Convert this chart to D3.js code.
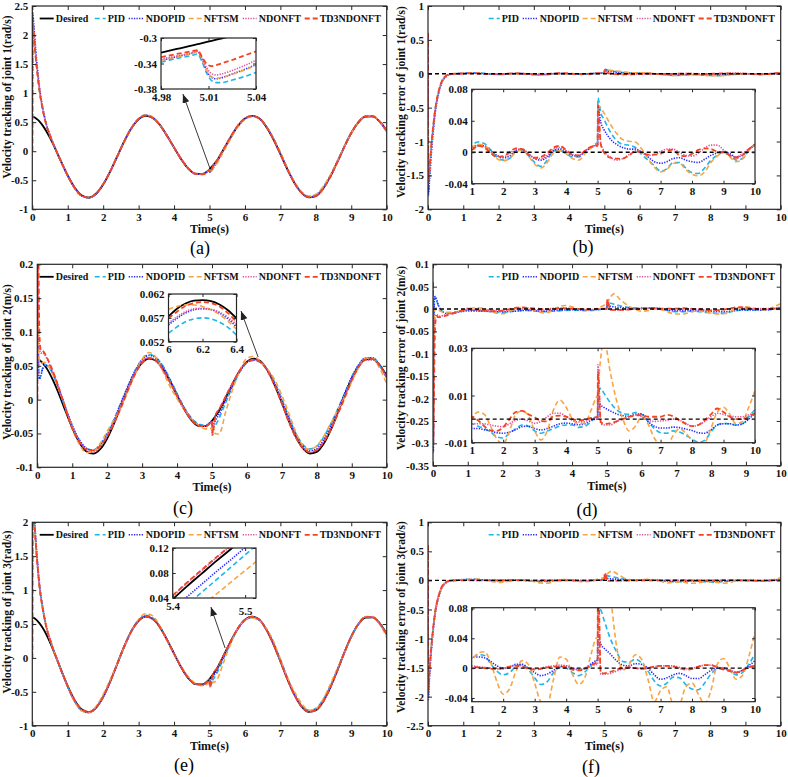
<!DOCTYPE html>
<html>
<head>
<meta charset="utf-8">
<script src="https://cdn.jsdelivr.net/npm/d3@7"></script>
<style>
  body { margin: 0; background: #fff; }
</style>
</head>
<body>
<script>
// ---- data ----
// shared time grid: start-up / 1..4.8 / disturbance at 5 s / 5.2..10
const time = [
  0, 0.01, 0.02, 0.04, 0.06, 0.1, 0.15, 0.2, 0.3, 0.4, 0.5, 0.6, 0.8,
  1, 1.2, 1.4, 1.6, 1.8, 2, 2.2, 2.4, 2.6, 2.8, 3, 3.2, 3.4, 3.6, 3.8, 4, 4.2, 4.4, 4.6, 4.8,
  4.95, 5, 5.01, 5.1,
  5.2, 5.4, 5.6, 5.8, 6, 6.2, 6.4, 6.6, 6.8, 7, 7.2, 7.4, 7.6, 7.8, 8, 8.2, 8.4, 8.6, 8.8, 9, 9.2, 9.4, 9.6, 9.8, 10
];

// desired velocities
const desired1 = [
  0.6, 0.5979, 0.5955, 0.5901, 0.5837, 0.5681, 0.5433, 0.5129, 0.4361, 0.3401, 0.2283, 0.1045, -0.161,
  -0.418, -0.6288, -0.7624, -0.7989, -0.7329, -0.5741, -0.3461, -0.0826, 0.178, 0.3983, 0.5479, 0.6076, 0.5727, 0.4535, 0.2706, 0.0641, -0.1373, -0.2979, -0.3862, -0.3916,
  -0.3394, -0.3116, -0.3056, -0.2434,
  -0.1682, 0.0355, 0.2453, 0.4348, 0.5622, 0.6068, 0.5658, 0.4215, 0.2084, -0.0494, -0.3148, -0.5494, -0.7179, -0.7963, -0.7725, -0.6491, -0.4473, -0.1939, 0.0722, 0.3138, 0.4964, 0.5943, 0.5983, 0.5119, 0.3537
];
const desired2 = [
  0.06, 0.0598, 0.0596, 0.059, 0.0584, 0.0568, 0.0543, 0.0513, 0.0436, 0.034, 0.0228, 0.0105, -0.0161,
  -0.0418, -0.0629, -0.0762, -0.0799, -0.0733, -0.0574, -0.0346, -0.0083, 0.0178, 0.0398, 0.0548, 0.0608, 0.0573, 0.0454, 0.0271, 0.0064, -0.0137, -0.0298, -0.0386, -0.0392,
  -0.0339, -0.0312, -0.0306, -0.0243,
  -0.0168, 0.0036, 0.0245, 0.0435, 0.0562, 0.0607, 0.0566, 0.0422, 0.0208, -0.0049, -0.0315, -0.0549, -0.0718, -0.0796, -0.0773, -0.0649, -0.0447, -0.0194, 0.0072, 0.0314, 0.0496, 0.0594, 0.0598, 0.0512, 0.0354
];
const desired3 = [
  0.6, 0.5979, 0.5955, 0.5901, 0.5837, 0.5681, 0.5433, 0.5129, 0.4361, 0.3401, 0.2283, 0.1045, -0.161,
  -0.418, -0.6288, -0.7624, -0.7989, -0.7329, -0.5741, -0.3461, -0.0826, 0.178, 0.3983, 0.5479, 0.6076, 0.5727, 0.4535, 0.2706, 0.0641, -0.1373, -0.2979, -0.3862, -0.3916,
  -0.3394, -0.3116, -0.3056, -0.2434,
  -0.1682, 0.0355, 0.2453, 0.4348, 0.5622, 0.6068, 0.5658, 0.4215, 0.2084, -0.0494, -0.3148, -0.5494, -0.7179, -0.7963, -0.7725, -0.6491, -0.4473, -0.1939, 0.0722, 0.3138, 0.4964, 0.5943, 0.5983, 0.5119, 0.3537
];

// tracking errors (desired - actual), joint 1
const errPid1 = [
  0.6, -1.8, -1.7, -1.5, -1.32, -1.05, -0.78, -0.55, -0.27, -0.11, -0.04, -0.01, 0.003,
  0.009, 0.013, 0.011, 0.003, -0.006, -0.01, -0.008, 0.001, 0.003, -0.004, -0.013, -0.018, -0.01, 0.002, 0.002, -0.002, -0.006, -0.006, 0.001, 0.006,
  0.011, 0.012, 0.069, 0.05,
  0.042, 0.026, 0.015, 0.01, 0.009, 0.006, -0.003, -0.01, -0.017, -0.024, -0.021, -0.013, -0.013, -0.02, -0.026, -0.027, -0.02, -0.01, -0.004, 0, -0.004, -0.01, -0.008, 0.002, 0.011
];
const errNdopid1 = [
  0.6, -1.78, -1.75, -1.6, -1.45, -1.15, -0.86, -0.6, -0.3, -0.12, -0.05, -0.015, 0.001,
  0.005, 0.009, 0.008, 0.002, -0.004, -0.007, -0.005, 0.002, 0.004, -0.002, -0.008, -0.01, -0.006, 0.002, 0.004, 0.001, -0.004, -0.005, 0.001, 0.006,
  0.009, 0.01, 0.058, 0.038,
  0.029, 0.017, 0.01, 0.006, 0.004, 0.004, 0, -0.006, -0.012, -0.014, -0.012, -0.008, -0.007, -0.01, -0.012, -0.013, -0.009, -0.004, -0.001, 0.001, -0.002, -0.006, -0.004, 0.003, 0.01
];
const errNftsm1 = [
  0.6, -1.6, -1.6, -1.45, -1.3, -1.03, -0.77, -0.55, -0.27, -0.11, -0.04, -0.01, 0.002,
  0.006, 0.01, 0.009, 0.001, -0.008, -0.011, -0.008, 0, 0.003, -0.005, -0.015, -0.02, -0.013, -0.001, 0.002, -0.002, -0.008, -0.01, -0.002, 0.006,
  0.01, 0.011, 0.06, 0.056,
  0.05, 0.036, 0.024, 0.016, 0.014, 0.013, 0.004, -0.008, -0.019, -0.025, -0.022, -0.014, -0.014, -0.022, -0.028, -0.03, -0.025, -0.013, -0.005, 0, -0.006, -0.012, -0.009, 0.002, 0.01
];
const errNdonft1 = [
  0.6, -1.5, -1.55, -1.45, -1.3, -1.03, -0.77, -0.55, -0.27, -0.11, -0.04, -0.01, 0.001,
  0.002, 0.008, 0.007, 0.001, -0.004, -0.006, -0.002, 0.004, 0.004, -0.002, -0.007, -0.008, -0.004, 0.004, 0.006, 0.002, -0.003, -0.004, 0.002, 0.007,
  0.009, 0.009, 0.046, 0.012,
  0.002, -0.006, -0.01, -0.008, -0.003, 0.002, 0, -0.004, -0.003, 0.001, 0.004, 0.004, 0, -0.004, -0.005, -0.001, 0.005, 0.009, 0.009, 0.003, -0.004, -0.006, -0.002, 0.004, 0.008
];
const errTd31 = [
  0.6, -1.6, -1.6, -1.45, -1.3, -1.02, -0.76, -0.54, -0.26, -0.1, -0.035, -0.008, 0.002,
  0.003, 0.008, 0.006, -0.001, -0.006, -0.005, 0, 0.005, 0.004, -0.003, -0.007, -0.006, -0.001, 0.006, 0.008, 0.003, -0.003, -0.004, 0.002, 0.007,
  0.008, 0.008, 0.06, 0.01,
  0, -0.007, -0.008, -0.008, -0.004, 0.001, 0, -0.003, -0.003, -0.002, 0.002, 0.003, -0.004, -0.005, -0.002, 0.003, 0.005, 0.004, 0.001, 0, -0.004, -0.007, -0.004, 0.004, 0.01
];

// joint 2
const errPid2 = [
  0.06, -0.3, -0.1, 0.015, 0.027, 0.02, 0.008, 0, -0.006, -0.008, -0.008, -0.007, -0.005,
  -0.002, -0.003, -0.004, -0.0055, -0.0075, -0.008, -0.006, -0.004, -0.0025, -0.003, -0.005, -0.006, -0.005, -0.004, -0.003, -0.0025, -0.0025, -0.0035, -0.003, -0.001,
  0.001, 0.001, 0.01, 0.013,
  0.011, 0.007, 0.004, 0.0025, 0.002, 0.0028, 0.002, -0.001, -0.004, -0.0058, -0.006, -0.005, -0.0055, -0.0068, -0.0085, -0.0098, -0.009, -0.0055, -0.0025, -0.0018, -0.002, -0.0025, -0.002, 0.001, 0.004
];
const errNdopid2 = [
  0.06, -0.32, -0.12, 0.02, 0.028, 0.022, 0.01, 0.001, -0.007, -0.01, -0.01, -0.009, -0.006,
  -0.004, -0.004, -0.0045, -0.005, -0.0058, -0.006, -0.0055, -0.0045, -0.0032, -0.003, -0.004, -0.0046, -0.004, -0.003, -0.002, -0.0017, -0.002, -0.0024, -0.002, -0.0005,
  0, 0, 0.009, 0.006,
  0.005, 0.0035, 0.0022, 0.0015, 0.0012, 0.002, 0.0022, -0.001, -0.003, -0.0038, -0.0038, -0.0034, -0.0036, -0.0042, -0.0048, -0.0058, -0.006, -0.0045, -0.0025, -0.002, -0.002, -0.0025, -0.002, 0, 0.0025
];
const errNftsm2 = [
  0.06, -0.25, -0.08, -0.01, 0, 0.003, 0, -0.004, -0.007, -0.008, -0.008, -0.007, -0.005,
  0, 0.003, 0.002, -0.003, -0.0085, -0.0105, -0.005, 0.002, 0.0035, 0.0015, -0.005, -0.0088, -0.005, 0.004, 0.008, 0.005, 0, -0.002, -0.0015, 0.004,
  0.009, 0.01, 0.012, 0.026,
  0.034, 0.02, 0.008, 0, -0.005, -0.003, 0.001, -0.002, -0.008, -0.011, -0.011, -0.007, -0.004, -0.006, -0.009, -0.011, -0.01, -0.004, 0.003, 0.005, 0.002, -0.002, -0.001, 0.005, 0.012
];
const errNdonft2 = [
  0.06, -0.28, -0.2, -0.06, -0.02, -0.012, -0.015, -0.016, -0.014, -0.012, -0.01, -0.008, -0.004,
  -0.002, -0.002, -0.002, -0.0025, -0.003, -0.0032, -0.002, -0.0005, 0, -0.0008, -0.0018, -0.001, 0.001, 0.0025, 0.0025, 0.001, -0.0005, -0.0012, -0.001, 0.0002,
  0.0005, 0.0005, 0.023, -0.002,
  -0.0025, -0.0025, -0.001, 0, 0.001, 0.0018, 0.001, -0.0005, -0.001, -0.0008, -0.0005, 0, -0.0005, -0.0018, -0.003, -0.0025, -0.001, 0.001, 0.0025, 0.002, 0.0012, 0.001, 0.001, 0.0018, 0.0025
];
const errTd32 = [
  0.06, -0.3, -0.25, -0.12, -0.04, -0.016, -0.018, -0.018, -0.016, -0.014, -0.012, -0.009, -0.004,
  0.001, -0.0005, -0.003, -0.0048, -0.005, -0.0035, 0, 0.003, 0.0035, 0.002, 0.0008, -0.0008, -0.001, 0.0012, 0.0015, 0.001, 0, -0.0005, -0.0002, 0.0005,
  0.0008, 0.0008, 0.02, -0.0012,
  -0.002, -0.0018, -0.001, 0, 0.001, 0.0015, 0.0018, 0.001, 0.001, 0.001, 0.0018, 0.0012, -0.0005, -0.002, -0.003, -0.0025, -0.0005, 0.002, 0.0045, 0.003, 0.001, 0, 0, 0.001, 0.0025
];

// joint 3
const errPid3 = [
  0.6, -2, -1.85, -1.6, -1.4, -1.12, -0.8, -0.56, -0.27, -0.11, -0.04, -0.01, 0.003,
  0.012, 0.018, 0.017, 0.006, -0.004, -0.009, -0.006, 0.002, 0.005, -0.002, -0.013, -0.022, -0.018, -0.006, 0.001, 0, -0.006, -0.01, -0.005, 0.004,
  0.01, 0.011, 0.08, 0.078,
  0.065, 0.04, 0.022, 0.009, 0.008, 0.012, 0.007, -0.004, -0.017, -0.024, -0.02, -0.012, -0.013, -0.022, -0.028, -0.029, -0.02, -0.008, -0.001, 0, -0.004, -0.009, -0.006, 0.005, 0.019
];
const errNdopid3 = [
  0.6, -2.05, -1.95, -1.7, -1.5, -1.18, -0.86, -0.6, -0.3, -0.12, -0.05, -0.015, 0.003,
  0.014, 0.015, 0.014, 0.009, 0.003, 0, 0.001, 0.005, 0.005, 0, -0.006, -0.01, -0.008, -0.003, 0.002, 0.003, 0, -0.002, 0, 0.006,
  0.01, 0.011, 0.045, 0.032,
  0.027, 0.019, 0.01, 0.004, 0.003, 0.006, 0.005, 0, -0.009, -0.015, -0.013, -0.009, -0.007, -0.01, -0.014, -0.014, -0.009, -0.003, 0, 0, -0.003, -0.006, -0.003, 0.003, 0.01
];
const errNftsm3 = [
  0.6, -1.85, -1.8, -1.6, -1.4, -1.1, -0.8, -0.56, -0.27, -0.11, -0.04, -0.01, 0.002,
  0.01, 0.02, 0.022, 0.008, -0.018, -0.035, -0.028, -0.005, 0.01, 0.005, -0.02, -0.045, -0.048, -0.015, 0.015, 0.012, -0.008, -0.022, -0.012, 0.02,
  0.04, 0.042, 0.07, 0.12,
  0.16, 0.1, 0.03, -0.003, 0.005, 0.018, 0.012, -0.015, -0.045, -0.03, -0.025, -0.048, -0.048, -0.025, -0.02, -0.035, -0.048, -0.03, 0.005, 0.013, 0, -0.015, -0.01, 0.015, 0.048
];
const errNdonft3 = [
  0.6, -1.8, -1.8, -1.58, -1.4, -1.1, -0.8, -0.56, -0.27, -0.11, -0.04, -0.01, 0.001,
  0.003, 0.002, 0.001, 0, -0.001, -0.001, 0.002, 0.004, 0.003, 0, -0.001, 0, 0.002, 0.003, 0.004, 0.003, 0, -0.002, -0.001, 0.003,
  0.005, 0.005, 0.12, -0.008,
  -0.008, -0.007, -0.004, -0.001, 0.001, 0, -0.001, 0, 0.002, 0.003, 0.003, 0.003, 0.001, -0.001, 0, 0.002, 0.004, 0.004, 0.002, -0.001, -0.003, -0.005, -0.003, 0.001, 0.003
];
const errTd33 = [
  0.6, -1.9, -1.85, -1.6, -1.42, -1.1, -0.8, -0.55, -0.27, -0.1, -0.035, -0.008, 0.001,
  0.002, 0.001, 0, -0.001, -0.001, 0, 0.002, 0.003, 0.002, -0.001, -0.002, -0.001, 0.001, 0.002, 0.002, 0.001, -0.002, -0.003, -0.001, 0.004,
  0.007, 0.008, 0.13, -0.006,
  -0.007, -0.005, -0.002, 0, 0.001, 0, -0.001, 0, 0.002, 0.003, 0.003, 0.002, 0, -0.002, -0.001, 0.002, 0.004, 0.004, 0.001, -0.002, -0.004, -0.006, -0.003, 0.001, 0.003
];

// zoomed tracking windows
const zoomTimeA = [4.98, 4.99, 5, 5.003, 5.006, 5.009, 5.012, 5.015, 5.018, 5.025, 5.032, 5.04];
const zoomDesiredA = [-0.3232, -0.3172, -0.3116, -0.3098, -0.308, -0.3062, -0.3044, -0.3026, -0.3008, -0.2967, -0.2925, -0.2878];
const zoomPidA = [-0.338, -0.332, -0.327, -0.325, -0.338, -0.356, -0.367, -0.37, -0.37, -0.366, -0.361, -0.354];
const zoomNdopidA = [-0.335, -0.3295, -0.3235, -0.321, -0.334, -0.352, -0.362, -0.364, -0.3625, -0.3565, -0.35, -0.342];
const zoomNftsmA = [-0.335, -0.3295, -0.324, -0.3215, -0.334, -0.351, -0.361, -0.363, -0.362, -0.357, -0.351, -0.343];
const zoomNdonftA = [-0.333, -0.328, -0.3225, -0.32, -0.332, -0.347, -0.356, -0.358, -0.3565, -0.351, -0.344, -0.335];
const zoomTd3A = [-0.33, -0.325, -0.3205, -0.319, -0.33, -0.341, -0.344, -0.3425, -0.34, -0.3345, -0.328, -0.321];

const zoomTimeC = [6, 6.05, 6.1, 6.15, 6.2, 6.25, 6.3, 6.35, 6.4];
const zoomDesiredC = [0.0573, 0.0589, 0.06, 0.0606, 0.0607, 0.0605, 0.0598, 0.0586, 0.0569];
const zoomPidC = [0.0538, 0.0551, 0.0562, 0.0568, 0.057, 0.0568, 0.0561, 0.055, 0.0534];
const zoomNdopidC = [0.0555, 0.0569, 0.058, 0.0587, 0.0589, 0.0587, 0.058, 0.0568, 0.0551];
const zoomNftsmC = [0.0588, 0.0594, 0.0597, 0.0597, 0.0594, 0.0587, 0.0577, 0.0563, 0.0546];
const zoomNdonftC = [0.0559, 0.0572, 0.0583, 0.0589, 0.059, 0.0588, 0.0582, 0.0571, 0.0556];
const zoomTd3C = [0.0569, 0.0583, 0.0595, 0.0601, 0.0603, 0.0601, 0.0594, 0.058, 0.0562];

const zoomTimeE = [5.4, 5.42, 5.44, 5.46, 5.48, 5.5, 5.515];
const zoomDesiredE = [0.038, 0.059, 0.079, 0.099, 0.118, 0.138, 0.153];
const zoomPidE = [0.009, 0.029, 0.049, 0.069, 0.089, 0.109, 0.124];
const zoomNdopidE = [0.022, 0.042, 0.062, 0.082, 0.101, 0.121, 0.136];
const zoomNftsmE = [-0.012, 0.007, 0.027, 0.046, 0.065, 0.084, 0.098];
const zoomNdonftE = [0.043, 0.064, 0.084, 0.104, 0.123, 0.143, 0.158];
const zoomTd3E = [0.044, 0.065, 0.085, 0.105, 0.124, 0.144, 0.159];

// tick labels
const timeTicks = [0, 1, 2, 3, 4, 5, 6, 7, 8, 9, 10];
const insetTimeTicks = [1, 2, 3, 4, 5, 6, 7, 8, 9, 10];
const yTicksA = [-1, -0.5, 0, 0.5, 1, 1.5, 2, 2.5];
const yTicksB = [-2, -1.5, -1, -0.5, 0, 0.5, 1];
const yTicksC = [-0.1, -0.05, 0, 0.05, 0.1, 0.15, 0.2];
const yTicksD = [-0.35, -0.3, -0.25, -0.2, -0.15, -0.1, -0.05, 0, 0.05, 0.1];
const yTicksE = [-1, -0.5, 0, 0.5, 1, 1.5, 2];
const yTicksF = [-2.5, -2, -1.5, -1, -0.5, 0, 0.5, 1];
const zoomXTicksA = [4.98, 5.01, 5.04];
const zoomYTicksA = [-0.38, -0.34, -0.3];
const zoomXTicksC = [6, 6.2, 6.4];
const zoomYTicksC = [0.052, 0.057, 0.062];
const zoomXTicksE = [5.4, 5.5];
const zoomYTicksE = [0.04, 0.08, 0.12];
const insetYTicksB = [-0.04, 0, 0.04, 0.08];
const insetYTicksD = [-0.01, 0.01, 0.03];
const insetYTicksF = [-0.04, 0, 0.04, 0.08];

// ---- styles ----
const FONT = '"Liberation Serif", "Times New Roman", serif';
const DESIRED = { name: "Desired", color: "#000", dash: null, width: 1.8 };
const SERIES = [
  { name: "PID", color: "#1fb6ea", dash: "5,3", width: 1.6 },
  { name: "NDOPID", color: "#2828ff", dash: "1.3,1.3", width: 1.6 },
  { name: "NFTSM", color: "#f8a444", dash: "5,3", width: 1.6 },
  { name: "NDONFT", color: "#e2559a", dash: "1.3,1.3", width: 1.6 },
  { name: "TD3NDONFT", color: "#f4431f", dash: "5,3", width: 1.8 }
];
// legend slots, offsets from the right edge of the axes: line start, line end, text x
const LEGEND_SLOTS = {
  Desired: [-347, -333, -331],
  PID: [-292, -281, -279],
  NDOPID: [-258, -243, -241],
  NFTSM: [-198, -184, -183],
  NDONFT: [-144, -130, -128],
  TD3NDONFT: [-82, -68, -67]
};

const svg = d3.select("body").append("svg")
  .attr("width", 788).attr("height", 777)
  .style("display", "block");
svg.append("rect").attr("width", 788).attr("height", 777).attr("fill", "#fff");
const defs = svg.append("defs");
defs.append("marker")
  .attr("id", "head").attr("markerUnits", "userSpaceOnUse")
  .attr("markerWidth", 9).attr("markerHeight", 7)
  .attr("refX", 9).attr("refY", 3.5).attr("orient", "auto")
  .append("path").attr("d", "M0,0L9,3.5L0,7z").attr("fill", "#222");

let clipCount = 0;
function addClip(x0, y0, x1, y1) {
  const id = "clip" + clipCount++;
  defs.append("clipPath").attr("id", id).append("rect")
    .attr("x", x0).attr("y", y0).attr("width", x1 - x0).attr("height", y1 - y0);
  return id;
}

function styleLine(sel, s) {
  sel.attr("fill", "none")
    .attr("stroke", s.color)
    .attr("stroke-width", s.width)
    .attr("stroke-dasharray", s.dash);
}

// box with inward ticks on all four sides, MATLAB style
function frame(g, x, y, xTicks, yTicks, tick) {
  const [x0, x1] = x.range();
  const [y0, y1] = y.range();
  const fmt = d => String(d);
  g.append("g").attr("class", "xb").attr("transform", `translate(0,${y0})`)
    .call(d3.axisBottom(x).tickValues(xTicks).tickSize(-tick).tickPadding(4).tickFormat(fmt));
  g.append("g").attr("transform", `translate(0,${y1})`)
    .call(d3.axisTop(x).tickValues(xTicks).tickSize(-tick).tickFormat(""));
  g.append("g").attr("transform", `translate(${x0},0)`)
    .call(d3.axisLeft(y).tickValues(yTicks).tickSize(-tick).tickPadding(4).tickFormat(fmt));
  g.append("g").attr("transform", `translate(${x1},0)`)
    .call(d3.axisRight(y).tickValues(yTicks).tickSize(-tick).tickFormat(""));
  g.selectAll(".domain").remove();
  g.selectAll(".tick line").attr("stroke", "#262626").attr("stroke-width", 1);
  g.selectAll(".tick text")
    .attr("font-family", FONT).attr("font-weight", "bold")
    .attr("font-size", 11).attr("fill", "#111");
  g.append("rect")
    .attr("x", x0).attr("y", y1).attr("width", x1 - x0).attr("height", y0 - y1)
    .attr("fill", "none").attr("stroke", "#262626").attr("stroke-width", 1.2);
}

function drawPanel(p) {
  const [left, top, right, bottom] = p.box;
  const x = d3.scaleLinear().domain([0, 10]).range([left, right]);
  const y = d3.scaleLinear().domain(p.yDomain).range([bottom, top]);
  const g = svg.append("g");
  const plot = g.append("g").attr("clip-path", `url(#${addClip(left, top, right, bottom)})`);
  const line = d3.line().x(d => x(d[0])).y(d => y(d[1])).curve(d3.curveMonotoneX);

  if (p.desired) {
    plot.append("path").datum(time.map((t, i) => [t, p.desired[i]]))
      .attr("d", line).call(styleLine, DESIRED);
    p.errors.forEach((err, k) => {
      plot.append("path").datum(time.map((t, i) => [t, p.desired[i] - err[i]]))
        .attr("d", line).call(styleLine, SERIES[k]);
    });
  } else {
    p.errors.forEach((err, k) => {
      plot.append("path").datum(time.map((t, i) => [t, err[i]]))
        .attr("d", line).call(styleLine, SERIES[k]);
    });
    plot.append("line")
      .attr("x1", x(0)).attr("x2", x(10)).attr("y1", y(0)).attr("y2", y(0))
      .attr("stroke", "#000").attr("stroke-width", 1.4).attr("stroke-dasharray", "4,3");
  }

  frame(g, x, y, timeTicks, p.yTicks, 4);

  // axis titles
  g.append("text").attr("x", (left + right) / 2).attr("y", bottom + 24)
    .attr("text-anchor", "middle").attr("font-family", FONT).attr("font-weight", "bold")
    .attr("font-size", 12).attr("fill", "#111").text("Time(s)");
  g.append("text").attr("transform", `translate(${p.yLabelX},${p.yLabelY}) rotate(-90)`)
    .attr("text-anchor", "middle").attr("font-family", FONT).attr("font-weight", "bold")
    .attr("font-size", 11.5).attr("fill", "#111").text(p.yLabel);
  g.append("text").attr("x", p.captionX).attr("y", p.captionY)
    .attr("text-anchor", "middle").attr("font-family", FONT)
    .attr("font-size", 18).attr("fill", "#000").text(p.caption);

  drawInset(g, p);

  // legend
  const entries = p.desired ? [DESIRED].concat(SERIES) : SERIES;
  const ly = top + 12.5;
  entries.forEach(s => {
    const slot = LEGEND_SLOTS[s.name];
    g.append("line").attr("x1", right + slot[0]).attr("x2", right + slot[1])
      .attr("y1", ly).attr("y2", ly).call(styleLine, s);
    g.append("text").attr("x", right + slot[2]).attr("y", ly).attr("dy", "0.35em")
      .attr("font-family", FONT).attr("font-weight", "bold").attr("font-size", 10)
      .attr("fill", "#111").text(s.name);
  });

  if (p.arrow) {
    g.append("line")
      .attr("x1", x(p.arrow[0][0])).attr("y1", y(p.arrow[0][1]))
      .attr("x2", x(p.arrow[1][0])).attr("y2", y(p.arrow[1][1]))
      .attr("stroke", "#222").attr("stroke-width", 0.9)
      .attr("marker-end", "url(#head)");
  }
}

function drawInset(g, p) {
  const s = p.inset;
  const [left, top, right, bottom] = s.box;
  const x = d3.scaleLinear().domain(s.xDomain).range([left, right]);
  const y = d3.scaleLinear().domain(s.yDomain).range([bottom, top]);
  const ig = g.append("g");
  ig.append("rect").attr("x", left).attr("y", top)
    .attr("width", right - left).attr("height", bottom - top).attr("fill", "#fff");
  const plot = ig.append("g").attr("clip-path", `url(#${addClip(left, top, right, bottom)})`);
  const line = d3.line().x(d => x(d[0])).y(d => y(d[1])).curve(d3.curveMonotoneX);

  if (s.time) {
    plot.append("path").datum(s.time.map((t, i) => [t, s.desired[i]]))
      .attr("d", line).call(styleLine, DESIRED);
    s.series.forEach((vals, k) => {
      plot.append("path").datum(s.time.map((t, i) => [t, vals[i]]))
        .attr("d", line).call(styleLine, SERIES[k]);
    });
  } else {
    p.errors.forEach((err, k) => {
      plot.append("path").datum(time.map((t, i) => [t, err[i]]))
        .attr("d", line).call(styleLine, SERIES[k]);
    });
    plot.append("line")
      .attr("x1", x(1)).attr("x2", x(10)).attr("y1", y(0)).attr("y2", y(0))
      .attr("stroke", "#000").attr("stroke-width", 1.4).attr("stroke-dasharray", "4,3");
  }
  frame(ig, x, y, s.xTicks, s.yTicks, 3);
  if (s.lowTick !== undefined) {
    ig.select(".xb").selectAll(".tick text").filter(d => d === s.lowTick).attr("y", 9);
  }
}

const panels = [
  {
    box: [32.3, 6, 386.7, 209.3], yDomain: [-1, 2.5], yTicks: yTicksA,
    yLabel: "Velocity tracking of joint 1(rad/s)", yLabelX: 11, yLabelY: 97,
    desired: desired1, errors: [errPid1, errNdopid1, errNftsm1, errNdonft1, errTd31],
    caption: "(a)", captionX: 200, captionY: 254,
    inset: {
      box: [161, 38, 256, 89], xDomain: [4.98, 5.04], yDomain: [-0.38, -0.3],
      xTicks: zoomXTicksA, yTicks: zoomYTicksA, time: zoomTimeA, desired: zoomDesiredA,
      series: [zoomPidA, zoomNdopidA, zoomNftsmA, zoomNdonftA, zoomTd3A]
    },
    arrow: [[5.01, -0.29], [4.25, 0.985]]
  },
  {
    box: [428, 6, 780.7, 209.3], yDomain: [-2, 1], yTicks: yTicksB,
    yLabel: "Velocity tracking error of joint 1(rad/s)", yLabelX: 405, yLabelY: 102,
    errors: [errPid1, errNdopid1, errNftsm1, errNdonft1, errTd31],
    caption: "(b)", captionX: 583, captionY: 253,
    inset: {
      box: [471.7, 89.3, 755, 183.7], xDomain: [1, 10], yDomain: [-0.04, 0.08],
      xTicks: insetTimeTicks, yTicks: insetYTicksB
    }
  },
  {
    box: [37.3, 264.3, 386.7, 467.3], yDomain: [-0.1, 0.2], yTicks: yTicksC,
    yLabel: "Velocity tracking of joint 2(m/s)", yLabelX: 11, yLabelY: 362,
    desired: desired2, errors: [errPid2, errNdopid2, errNftsm2, errNdonft2, errTd32],
    caption: "(c)", captionX: 183, captionY: 514,
    inset: {
      box: [168.5, 294, 236.5, 341.7], xDomain: [6, 6.4], yDomain: [0.052, 0.062],
      xTicks: zoomXTicksC, yTicks: zoomYTicksC, time: zoomTimeC, desired: zoomDesiredC,
      series: [zoomPidC, zoomNdopidC, zoomNftsmC, zoomNdonftC, zoomTd3C]
    },
    arrow: [[6.32, 0.063], [5.83, 0.131]]
  },
  {
    box: [433, 264.3, 780.7, 465.7], yDomain: [-0.35, 0.1], yTicks: yTicksD,
    yLabel: "Velocity tracking error of joint 2(m/s)", yLabelX: 405, yLabelY: 358,
    errors: [errPid2, errNdopid2, errNftsm2, errNdonft2, errTd32],
    caption: "(d)", captionX: 587, captionY: 516,
    inset: {
      box: [471.7, 348.3, 755, 442.7], xDomain: [1, 10], yDomain: [-0.01, 0.03],
      xTicks: insetTimeTicks, yTicks: insetYTicksD
    }
  },
  {
    box: [32.3, 522.3, 386.7, 725.7], yDomain: [-1, 2], yTicks: yTicksE,
    yLabel: "Velocity tracking of joint 3(rad/s)", yLabelX: 11, yLabelY: 612,
    desired: desired3, errors: [errPid3, errNdopid3, errNftsm3, errNdonft3, errTd33],
    caption: "(e)", captionX: 184, captionY: 771,
    inset: {
      box: [172.7, 548, 256, 598], xDomain: [5.4, 5.515], yDomain: [0.04, 0.12],
      xTicks: zoomXTicksE, yTicks: zoomYTicksE, time: zoomTimeE, desired: zoomDesiredE,
      series: [zoomPidE, zoomNdopidE, zoomNftsmE, zoomNdonftE, zoomTd3E], lowTick: 5.5
    },
    arrow: [[5.44, 0.146], [5.04, 0.75]]
  },
  {
    box: [428, 522.3, 780.7, 725.7], yDomain: [-2.5, 1], yTicks: yTicksF,
    yLabel: "Velocity tracking error of joint 3(rad/s)", yLabelX: 405, yLabelY: 617,
    errors: [errPid3, errNdopid3, errNftsm3, errNdonft3, errTd33],
    caption: "(f)", captionX: 591, captionY: 773,
    inset: {
      box: [471.7, 607.7, 755, 701.7], xDomain: [1, 10], yDomain: [-0.045, 0.081],
      xTicks: insetTimeTicks, yTicks: insetYTicksF
    }
  }
];

panels.forEach(drawPanel);
</script>
</body>
</html>
